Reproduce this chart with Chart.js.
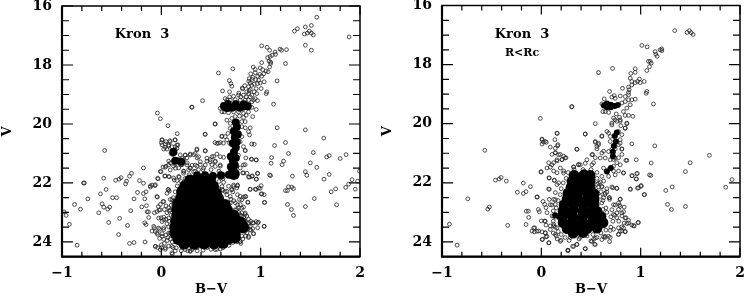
<!DOCTYPE html>
<html>
<head>
<meta charset="utf-8">
<title>Kron 3</title>
<script src="https://cdn.jsdelivr.net/npm/chart.js@4"></script>
<style>
body { margin: 0; background: #fff; }
canvas { position: absolute; top: 0; }
#painelA { left: 0; }
#painelB { left: 380px; }
</style>
</head>
<body>
<canvas id="painelA" width="373" height="296"></canvas>
<canvas id="painelB" width="366" height="296"></canvas>
<script>
// eixos
const xMajor = [-1, 0, 1, 2];
const xMinor = [-0.8, -0.6, -0.4, -0.2, 0.2, 0.4, 0.6, 0.8, 1.2, 1.4, 1.6, 1.8];
const yMajor = [16, 18, 20, 22, 24];
const yMinor = [16.5, 17, 17.5, 18.5, 19, 19.5, 20.5, 21, 21.5, 22.5, 23, 23.5];

// painel esquerdo: [B-V, V]
const giantsA = [[1.565,16.38],[1.51,16.66],[1.45,16.71],[1.37,16.77],[1.34,16.85],[1.49,16.85],[1.47,16.92],[1.44,16.95],[1.51,16.92],[1.53,16.98],[1.89,17.05],[1.45,17.33],[1.51,17.5],[1.01,17.35],[1.065,17.4],[1.09,17.5],[1.195,17.46],[1.21,17.5],[1.26,17.48],[1.145,17.56],[1.15,17.64],[1.115,17.67],[1.095,17.71],[1.07,17.75],[1.085,17.87],[1.1,17.9],[1.01,17.92],[1.1,17.95],[1.25,17.95],[1.09,18.07],[0.925,18.07],[0.72,18.13],[0.575,18.27],[0.945,18.15],[0.995,18.1],[1.02,18.16],[1.055,18.2],[1.075,18.23],[0.945,18.26],[0.9,18.3],[0.97,18.38],[1.01,18.38],[0.885,18.46],[0.915,18.49],[0.98,18.52],[1.035,18.57],[1.165,18.54],[0.685,18.53],[0.7,18.63],[0.71,18.72],[0.895,18.61],[0.91,18.69],[0.878,18.74],[0.968,18.63],[0.995,18.61],[0.935,18.65],[0.955,18.8],[1.005,18.8],[0.814,18.78],[0.82,18.81],[0.616,18.88],[0.687,18.91],[0.884,18.88],[0.895,18.83],[0.86,18.91],[0.961,18.97],[1.062,18.91],[1.055,18.97],[0.878,18.97],[0.911,19.02],[0.935,18.91],[0.854,19.08],[0.895,19.08],[0.827,19.02],[0.945,19.14],[0.968,19.21],[0.643,19.14],[0.687,19.08],[0.727,19.06],[0.777,19.02],[0.8,19.08]];
const clumpA = [[0.593,19.47],[0.62,19.33],[0.61,19.59],[0.633,19.59],[0.677,19.62],[0.727,19.59],[0.777,19.59],[0.827,19.64],[0.878,19.59],[0.911,19.44],[0.955,19.51],[0.911,19.25],[0.66,19.19],[0.694,19.19],[0.744,19.17],[0.794,19.19],[0.844,19.19],[0.878,19.19],[0.928,19.19],[1.13,19.33],[0.305,19.43],[0.415,19.21],[-0.04,19.63],[-0.01,19.82],[0.067,20.06],[0.16,20.33],[0.31,19.43]];
const branchA = [[0.66,19.87],[0.71,19.81],[0.744,19.75],[0.787,19.73],[0.827,19.78],[0.854,19.7],[0.92,19.75],[0.694,19.98],[0.81,19.92],[0.844,19.92],[0.694,20.15],[0.81,20.09],[0.845,20.13],[0.895,20.13],[0.67,20.32],[0.643,20.43],[0.66,20.54],[0.687,20.65],[0.81,20.43],[0.794,20.6],[0.827,20.77],[0.878,20.26],[0.888,20.37],[0.61,20.41],[0.54,20],[0.44,20.35],[0.54,20.63],[0.575,20.65],[0.625,20.65],[0.91,20.68],[0.935,20.69],[1.14,20.73],[1.25,20.63],[1.166,20.13],[1.45,20.2],[1.635,20.48],[0.007,20.54],[0.09,20.6],[0.137,20.54],[0.167,20.71],[0,20.63],[0.04,20.68],[0.074,20.75],[0.107,20.77],[0.14,20.77],[0.024,20.85],[0.057,20.85],[0.107,20.98],[0.14,20.87],[0.124,21.02]];
const fieldBlueA = [[-0.57,20.9],[-0.18,21.49],[-0.3,21.67],[-0.32,21.77],[-0.405,21.82],[-0.425,21.87],[-0.46,21.91],[-0.58,21.84],[-0.784,22],[-0.774,22],[-0.35,21.94],[-0.36,22.03],[-0.22,21.92],[-0.18,22.01],[-0.064,22.09],[-0.094,22.07],[-0.11,22.14],[-0.556,22.22],[-0.613,22.37],[-0.74,22.54],[-0.49,22.5],[-0.45,22.5],[-0.275,22.54],[-0.24,22.32],[-0.18,22.36],[-0.154,22.3],[-0.167,22.54],[-0.04,22.48],[-0.874,22.73],[-0.814,22.89],[-0.98,22.98],[-0.958,23.1],[-0.925,23.4],[-0.848,24.11],[-0.596,22.71],[-0.58,22.82],[-0.52,22.82],[-0.54,22.89],[-0.63,23.01],[-0.308,22.94],[-0.197,22.81],[-0.15,22.77],[-0.144,22.98],[-0.13,22.98],[-0.127,23.17],[-0.42,23.2],[-0.53,23.34],[-0.34,23.44],[-0.167,23.35],[-0.154,23.41],[-0.43,23.75],[-0.32,24.05],[-0.275,24.02],[-0.164,24]];
const edgeLeftA = [[-0.07,23.01],[-0.023,22.92],[-0.03,22.8],[-0.01,22.73],[0.017,22.63],[0.047,22.78],[0.03,22.9],[0.057,23.01],[0.074,22.84],[-0.003,23.18],[0.024,23.16],[0.047,23.23],[0.007,23.31],[0.057,23.38],[-0.07,23.52],[-0.094,23.63],[-0.06,23.65],[-0.017,23.57],[0.024,23.52],[0.074,23.49],[-0.037,23.74],[0.007,23.72],[0.047,23.76],[0.09,23.69],[-0.017,23.88],[0.024,23.91],[0.067,23.85],[-0.06,24.15],[-0.037,24.19],[0,24.19],[0.04,24.25],[0.11,24.41],[0.074,24.14],[0.118,24.19],[0,24.1],[0.14,24.3],[0.21,24.19],[0.265,24.3],[0.31,24.25],[0.36,24.19],[-0.003,21.62],[0.034,21.77],[0.08,21.79],[-0.033,21.86],[0.067,22.22],[0.08,22.28],[0.09,22.56],[0.124,22.62],[0.124,21.83],[0.157,21.92],[0.017,21.46],[0.047,21.43],[0.09,21.32],[0.124,21.43],[0.175,21.49],[0.074,21.26],[0.114,21.04],[0.14,20.98],[0.175,21.21],[0.21,21.17],[0.24,21.06],[0.29,21.02],[0.34,21],[0.14,21.37],[0.21,21.38],[0.26,21.32],[0.31,21.4],[0.36,21.15],[0.225,21.6],[0.275,21.55],[0.325,21.62],[0.375,21.55]];
const fieldRedA = [[1.11,21.14],[1.105,21.33],[1.28,21],[1.23,21.26],[1.216,21.38],[1.53,20.97],[1.5,21.32],[1.565,21.47],[1.665,21.12],[1.69,21.07],[1.8,21.17],[1.86,21.04],[0.955,21.22],[0.905,21.19],[0.85,21.15],[0.82,21.66],[0.878,21.8],[0.915,21.76],[0.97,21.68],[0.958,21.87],[1.09,21.73],[1.1,21.75],[1.32,21.77],[1.45,21.62],[1.464,21.74],[1.638,21.87],[1.69,21.71],[1.92,21.89],[1.976,21.94],[1.886,22.04],[1.856,22.15],[1.953,22.21],[1.755,22.2],[1.71,22.3],[1.995,21.6],[1.54,22.53],[1.765,22.74],[1.45,22.8],[1.27,22.73],[1.31,22.9],[1.33,23.1],[1.28,22.13],[1.25,22.26],[1.27,22.26],[1.313,22.14],[1.33,22.19],[1.005,22.09],[0.978,22.17],[0.955,22.22],[0.895,22.22],[1.005,22.37],[1.035,22.4],[1.04,22.66],[1.035,23.47],[0.97,23.35],[0.955,23.31],[0.92,23.35],[0.97,23.52],[0.928,23.72],[0.878,23.85],[0.794,23.99],[0.76,23.99],[0.643,24.14],[0.576,24.15]];
const edgeRightA = [[0.627,21.98],[0.677,22.11],[0.727,22.07],[0.767,22.07],[0.71,22.22],[0.76,22.17],[0.61,22.22],[0.66,22.28],[0.72,22.3],[0.794,22.45],[0.828,22.48],[0.85,22.46],[0.787,22.56],[0.871,22.65],[0.744,22.67],[0.794,22.73],[0.828,22.82],[0.777,22.84],[0.81,23.01],[0.844,23.07],[0.878,23.23],[0.844,23.29],[0.895,23.46],[0.861,23.52],[0.828,23.63],[0.861,23.69],[0.81,23.8],[0.76,23.91],[0.693,24.02],[0.593,24.08],[0.526,24.19],[0.459,24.19],[0.392,24.14],[0.291,24.3],[0.56,24.25],[0.643,24.08],[0.727,23.91],[0.744,23.63],[0.777,23.57],[0.794,23.35],[0.81,23.12],[0.844,20.9],[0.777,21.06],[0.727,21.26],[0.844,21.38],[0.794,21.49],[0.76,21.43],[0.828,21.66],[0.694,21.6],[0.593,21.66],[0.526,21.1],[0.459,21.26],[0.392,21.38],[0.325,21.04],[0.258,21.15],[0.442,20.9],[0.358,20.85],[0.56,21.02],[0.543,21.26],[0.492,21.21],[0.627,21.13],[0.509,21.38],[0.425,21.49],[0.593,21.43],[0.292,21.49],[0.358,21.43],[0.225,21.6]];
const extraA = [[0.007,20.54],[0.047,20.6],[0.084,20.57],[0.14,20.54],[0.007,20.71],[0.04,20.79],[0.074,20.71],[0.157,20.71],[0.124,20.94],[0.097,21],[0.157,20.83],[0.19,21.05],[0.241,21.05],[0.291,21.05],[0.358,20.88],[0.442,20.92],[0.375,21.11],[0.459,21.16],[0.509,21.11],[0.543,21.28],[0.593,21.11],[0.559,20.66],[0.593,20.63],[0.609,20.43],[0.442,20.35],[0.543,20],[0.224,21.22],[0.174,21.22],[0.124,21.24],[0.074,21.39],[0.04,21.47],[0.09,21.56],[0.141,21.5],[0.198,21.39],[0.258,21.39],[0.291,21.5],[0.342,21.39],[0.392,21.28],[0.442,21.39],[0.492,21.28],[0.543,21.44],[0.593,21.39],[0.04,21.76],[-0.01,21.61],[0.074,21.78],[0.13,21.9],[-0.037,21.84],[0.174,21.78],[0.224,21.67],[0.844,20.9],[0.911,21.2],[0.955,21.22],[0.827,21.39],[0.861,21.67],[0.911,21.78],[0.968,21.67],[0.955,21.87],[0.888,21.8],[0.727,22.12],[0.767,22.1],[0.71,22.23],[0.61,22.12],[0.643,22.29],[0.694,22.46],[0.767,22.4],[0.844,22.46],[0.81,22.57],[0.871,22.66],[0.894,22.21],[0.995,22.18],[0.945,22.21],[1.012,22.37],[1.038,22.66],[0.694,22.68],[0.767,22.74],[0.81,22.85],[0.744,22.91],[0.794,23.08],[0.844,23.02],[0.827,23.3],[0.878,23.41],[0.928,23.36],[0.978,23.33],[0.894,23.58],[0.928,23.72],[0.844,23.64],[1.035,23.47],[0.878,23.81],[0.794,23.98],[0.744,23.92],[0.643,24.09],[0.593,24.24],[0.543,24.26],[0.325,24.09],[0.291,24.32],[0.241,24.26],[0.107,24.37],[-0.044,22.46],[0.074,22.23],[0.057,22.35],[-0.111,22.1],[-0.06,22.06],[0.107,22.57],[0.024,22.63],[0.124,22.74],[0.09,22.91],[-0.01,22.91],[-0.044,22.97],[-0.027,23.19],[0.024,23.25],[0.074,23.19],[-0.077,23.47],[-0.027,23.53],[0.024,23.58],[-0.044,23.7],[0.007,23.81],[0.074,23.7],[-0.06,24.15],[-0.01,24.26],[0.04,24.2],[0.107,24.15]];
const beltA = [[0.62,22.25],[0.66,22.4],[0.7,22.55],[0.73,22.6],[0.76,22.9],[0.72,22.95],[0.78,23],[0.83,23.15],[0.86,23.12],[0.88,23.35],[0.9,23.3],[0.9,23.6],[0.87,23.55],[0.92,23.55],[0.85,23.8],[0.82,23.9],[0.8,24.05],[0.72,24.02],[0.68,24.12],[0.62,24.2],[0.5,24.25],[0.42,24.28],[0.36,24.3],[0.2,24.3],[0.15,24.2],[0.11,24],[0.09,23.9],[0.06,23.95],[0.03,24.05],[0.08,23.3],[0.1,23.1],[0.08,22.95],[0.1,22.75],[0.12,22.5],[0.14,22.3],[0.16,22.1],[0.2,21.95],[0.24,21.85],[0.18,21.8],[0.28,21.72],[0.34,21.6],[0.42,21.55],[0.5,21.55],[0.58,21.6],[0.62,21.85],[0.58,21.95],[0.62,21.7],[0.55,22.1],[0.58,22.2],[0.78,18.95],[0.84,18.7],[0.88,18.55],[0.92,18.42],[0.95,18.5],[0.99,18.32],[1.03,18.3]];
const denseA = [[0.63,19.4],[0.67,19.32],[0.71,19.45],[0.75,19.33],[0.79,19.45],[0.83,19.33],[0.87,19.4],[0.66,19.46],[0.74,19.42],[0.82,19.42],[0.72,21.55],[0.74,21.4],[0.7,21.45],[0.72,21.25],[0.7,21.1],[0.75,21.15],[0.73,20.95],[0.75,20.8],[0.72,20.65],[0.76,20.6],[0.74,20.45],[0.77,20.35],[0.73,20.25],[0.76,20.1],[0.75,19.95],[0.12,20.95],[0.14,21.25],[0.2,21.28],[0.36,21.75],[0.44,21.74],[0.52,21.76],[0.6,21.75],[0.68,21.72]];
const coreA = [[0.73,21.7],[0.29,21.92],[0.39,21.9],[0.49,21.92],[0.24,22.1],[0.34,22.08],[0.44,22.1],[0.52,22.12],[0.21,22.3],[0.31,22.28],[0.41,22.3],[0.51,22.3],[0.55,22.35],[0.2,22.5],[0.3,22.52],[0.4,22.5],[0.5,22.48],[0.57,22.52],[0.17,22.7],[0.27,22.72],[0.37,22.7],[0.47,22.68],[0.57,22.7],[0.64,22.75],[0.16,22.9],[0.26,22.92],[0.36,22.9],[0.46,22.88],[0.56,22.9],[0.66,22.92],[0.16,23.1],[0.25,23.1],[0.35,23.12],[0.45,23.1],[0.55,23.08],[0.65,23.1],[0.73,23.12],[0.15,23.3],[0.25,23.32],[0.35,23.3],[0.45,23.28],[0.55,23.3],[0.65,23.32],[0.75,23.3],[0.8,23.35],[0.14,23.5],[0.24,23.5],[0.34,23.52],[0.44,23.5],[0.54,23.48],[0.64,23.5],[0.74,23.52],[0.82,23.5],[0.14,23.7],[0.24,23.72],[0.34,23.7],[0.44,23.68],[0.54,23.7],[0.64,23.72],[0.74,23.7],[0.17,23.9],[0.27,23.88],[0.37,23.9],[0.47,23.92],[0.57,23.9],[0.67,23.88],[0.74,23.85],[0.23,24.05],[0.33,24.06],[0.43,24.05],[0.53,24.04],[0.62,24.03]];

// painel direito: R<Rc
const giantsB = [[1.343,16.85],[1.467,16.91],[1.491,16.85],[1.508,16.92],[1.528,16.98],[1.012,17.35],[1.065,17.4],[1.146,17.56],[1.152,17.65],[1.166,17.72],[1.196,17.5],[1.213,17.47],[1.213,17.53],[1.079,17.89],[1.096,17.89],[1.106,17.95],[1.089,18.07],[1.062,18.2],[0.945,18.14],[0.945,18.26],[0.901,18.3],[0.717,18.13],[0.576,18.27],[0.895,18.46],[0.911,18.57],[0.968,18.57],[0.988,18.49],[1.035,18.57],[0.995,18.61],[0.945,18.61],[0.911,18.69],[0.878,18.76],[0.817,18.8],[0.884,18.85],[0.687,18.91],[0.878,18.94],[1.062,18.91],[1.055,18.97],[0.633,19.16],[0.734,19.05],[0.794,19.06],[0.878,19.02],[0.844,19.08],[0.945,19.17],[0.911,19.19],[0.878,19.19],[0.844,19.25],[0.744,19.14],[0.71,19.1],[1.129,19.33],[0.305,19.43],[0.543,20],[0.442,20.35],[0.861,20],[0.921,19.75],[0.878,19.72],[0.844,19.72],[0.827,19.59],[0.861,19.47],[0.895,19.36],[0.811,19.3],[0.61,19.33],[0.62,19.59],[0.643,19.59],[0.677,19.62],[0.754,19.67],[0.787,19.78],[0.727,19.81],[0.76,19.92],[0.794,19.92],[0.71,20.04],[0.8,20.07],[0.844,20.15],[0.677,20.32],[0.61,20.41],[0.811,20.37],[0.543,20.63],[0.576,20.71],[0.911,20.68],[1.142,20.75],[0.794,20.54],[0.694,20.6],[0.777,20.71],[-0.01,19.82],[0.16,20.33],[0.007,20.54],[0.04,20.6],[0.137,20.54],[0.167,20.71],[0.02,20.62]];
const fieldB = [[-0.569,20.9],[-0.462,21.91],[-0.425,21.87],[-0.405,21.82],[-0.352,21.94],[-0.181,22.01],[-0.11,22.13],[-0.241,22.32],[-0.181,22.36],[-0.154,22.3],[-0.04,22.48],[-0.74,22.54],[-0.539,22.89],[-0.523,22.82],[-0.925,23.4],[-0.848,24.11],[-0.338,23.44],[-0.154,23.41],[-0.151,22.96],[-0.131,22.96],[-0.127,23.17],[-0.03,22.9],[-0.02,22.98],[-0.003,21.62],[0.077,21.83],[0.08,22.22],[0.017,22.63],[0.034,22.73],[0.047,22.84],[0.057,23.01],[0,23.29],[0.034,23.29],[0.047,23.43],[-0.067,23.52],[-0.094,23.63],[-0.07,23.66],[-0.027,23.63],[0.007,23.66],[0.04,23.69],[0.013,23.91],[0.047,23.83],[0.077,24.03],[0.124,23.46],[0.158,23.52],[0.091,23.46],[0.151,23.8],[0.198,23.94],[0.268,24.28],[0.124,21.32],[0.074,21.32],[0.107,21.04],[0.141,20.98],[0.191,21.04],[0.225,21.1],[0.248,21.15],[0.158,21.26],[0.208,21.21],[0.091,21.47],[0.124,21.6],[0.158,21.66],[0.225,21.6],[0.131,21.91],[0.174,22],[0.08,22.56],[0.124,22.56],[0.141,22.33],[0.107,22.75],[0.141,22.73],[0.107,23.12],[0.141,23.16]];
const outerB = [[0.358,20.87],[0.516,21.04],[0.56,20.85],[0.627,20.93],[0.71,20.87],[0.744,20.85],[0.811,20.85],[0.811,21.04],[0.851,21.24],[0.955,21.22],[1.106,21.33],[1.498,21.32],[1.692,21.07],[0.543,21.15],[0.526,21.32],[0.442,21.34],[0.375,21.38],[0.325,21.46],[0.727,21.21],[0.76,21.32],[0.777,21.15],[0.677,21.55],[0.727,21.6],[0.777,21.6],[0.828,21.66],[0.915,21.76],[0.965,21.68],[0.958,21.87],[1.089,21.73],[1.102,21.75],[1.451,21.62],[1.92,21.89],[1.856,22.15],[1.317,22.14],[1.253,22.26],[1.005,22.09],[0.978,22.17],[0.898,22.22],[1.035,22.4],[0.76,22.19],[0.72,22.17],[0.66,22.31],[0.593,21.97],[0.627,21.94],[0.61,22.14],[0.576,22.14],[0.687,22.5],[0.687,22.56],[0.794,22.56],[0.627,22.5],[0.744,22.75],[0.787,22.75],[0.834,22.82],[0.777,22.9],[0.828,22.98],[0.727,23.07],[0.76,23.18],[0.811,23.12],[0.851,23.18],[0.878,23.27],[0.861,23.38],[0.834,23.36],[0.935,23.46],[0.972,23.35],[0.911,23.43],[0.811,23.49],[0.777,23.52],[0.727,23.57],[0.694,23.61],[0.811,23.63],[0.844,23.66],[0.777,23.74],[0.627,23.83],[0.694,23.85],[0.687,23.99],[0.643,23.85],[0.56,23.85],[0.526,23.91],[0.499,23.97],[0.536,24.08],[0.442,24.23],[0.358,24.08],[0.315,24.15],[0.268,24.3],[0.392,23.85],[0.292,23.85],[1.27,22.73],[1.31,22.9],[1.451,22.8]];
const extraB = [[0.609,20.43],[0.66,20.26],[0.71,19.98],[0.743,19.87],[0.794,19.87],[0.861,19.98],[0.844,20.15],[0.777,20.26],[0.694,20.43],[0.794,20.66],[0.727,20.77],[0.677,20.94],[0.81,20.86],[0.609,20.99],[0.559,20.77],[0.543,20.6],[0.576,20.66],[0.509,21.05],[0.459,21.22],[0.392,21.39],[0.325,21.47],[0.375,21.39],[0.509,21.39],[0.593,21.16],[0.643,21.16],[0.694,21.22],[0.743,21.16],[0.861,21.24],[0.794,21.39],[0.727,21.44],[0.626,21.5],[0.827,21.67],[0.911,21.76],[0.961,21.69],[0.955,21.87],[0.743,21.73],[0.677,21.78],[0.609,21.78],[0.576,22.01],[0.609,22.12],[0.71,22.14],[0.76,22.18],[0.894,22.21],[1.005,22.12],[0.968,22.18],[1.038,22.4],[0.794,22.55],[0.683,22.51],[0.643,22.35],[0.593,22.46],[0.609,22.68],[0.727,22.74],[0.777,22.68],[0.794,22.8],[0.71,22.91],[0.76,23.02],[0.81,23.02],[0.844,23.19],[0.878,23.36],[0.928,23.45],[0.978,23.34],[0.827,23.53],[0.794,23.64],[0.844,23.64],[0.777,23.75],[0.677,23.81],[0.643,23.81],[0.609,23.92],[0.543,23.87],[0.509,23.98],[0.543,24.09],[0.442,24.23],[0.358,24.09],[0.325,24.15],[0.268,24.28],[0.191,23.98],[0.074,24.03],[0.007,23.92],[0.04,23.7],[-0.044,23.64],[-0.077,23.53],[0.057,23.81],[0.141,23.75],[0.09,23.58],[0.124,23.4],[0.04,23.3],[0.124,23.13],[0.09,22.74],[0.141,22.57],[0.074,22.21],[-0.044,22.48],[-0.003,21.64],[0.08,21.84],[0.13,21.92],[0.157,22.06],[0.057,21.5],[0.107,21.39],[0.157,21.22],[0.208,21.22],[0.241,21.16],[0.141,20.99],[0.174,21.05],[0.358,20.86],[0.164,20.75],[0.141,20.83],[0.007,20.52],[0.05,20.63],[0.007,20.69],[0.09,20.79],[0.157,20.32],[0.442,20.35],[0.308,19.42],[0.224,21.67],[0.191,21.5]];
const beltB = [[0.12,23.3],[0.14,23.5],[0.17,23.65],[0.2,23.75],[0.24,23.85],[0.12,22.95],[0.15,22.85],[0.17,22.6],[0.19,22.4],[0.2,22.2],[0.22,22],[0.25,21.85],[0.27,21.65],[0.33,21.55],[0.42,21.55],[0.5,21.55],[0.56,21.65],[0.56,21.85],[0.56,22.05],[0.6,22.3],[0.62,22.6],[0.65,22.85],[0.66,23],[0.7,23.15],[0.72,23.3],[0.7,23.5],[0.65,23.6],[0.6,23.7],[0.52,23.75],[0.46,23.8],[0.38,23.9],[0.28,23.95],[0.12,23.7],[0.16,23.9],[0.74,23.1],[0.78,23.3],[0.62,22.9],[0.64,22.4],[0.66,22.2]];
const denseB = [[0.63,19.38],[0.66,19.32],[0.66,19.44],[0.7,19.36],[0.7,19.44],[0.74,19.4],[0.77,19.37],[0.76,20.3],[0.74,20.42],[0.75,20.6],[0.73,20.75],[0.72,20.95],[0.72,21.1],[0.7,21.5],[0.66,21.62],[0.14,23.1]];
const coreB = [[0.33,21.75],[0.43,21.73],[0.49,21.75],[0.31,21.95],[0.41,21.93],[0.49,21.95],[0.3,22.15],[0.4,22.13],[0.49,22.15],[0.27,22.35],[0.37,22.33],[0.47,22.35],[0.53,22.37],[0.26,22.55],[0.36,22.53],[0.46,22.55],[0.53,22.57],[0.23,22.75],[0.33,22.73],[0.43,22.75],[0.53,22.73],[0.22,22.95],[0.32,22.93],[0.42,22.95],[0.52,22.93],[0.56,22.97],[0.21,23.15],[0.31,23.13],[0.41,23.15],[0.51,23.13],[0.6,23.15],[0.22,23.35],[0.32,23.33],[0.42,23.35],[0.52,23.33],[0.62,23.35],[0.26,23.55],[0.36,23.53],[0.46,23.55],[0.56,23.53],[0.32,23.7],[0.42,23.68]];

const fonte = '"DejaVu Serif"';

function pontos(lista) {
    return lista.map(p => ({ x: p[0], y: p[1] }));
}

function serie(lista, raio, cheio) {
    return {
        data: pontos(lista),
        pointStyle: 'circle',
        pointRadius: raio,
        pointBorderWidth: cheio ? 0 : 0.8,
        pointBorderColor: '#222',
        pointBackgroundColor: cheio ? '#000' : 'rgba(0,0,0,0)',
        showLine: false
    };
}

// moldura e marcas de escala para dentro, como no original
const moldura = {
    id: 'moldura',
    afterDraw(chart, args, opts) {
        const c = chart.ctx, a = chart.chartArea;
        const sx = chart.scales.x, sy = chart.scales.y;
        c.save();
        c.strokeStyle = '#000';
        c.lineWidth = 1.2;
        const marcaX = (v, t) => {
            const p = sx.getPixelForValue(v);
            c.beginPath();
            c.moveTo(p, a.top); c.lineTo(p, a.top + t);
            c.moveTo(p, a.bottom); c.lineTo(p, a.bottom - t);
            c.stroke();
        };
        const marcaY = (v, t) => {
            const p = sy.getPixelForValue(v);
            c.beginPath();
            c.moveTo(a.left, p); c.lineTo(a.left + t, p);
            c.moveTo(a.right, p); c.lineTo(a.right - t, p);
            c.stroke();
        };
        xMajor.forEach(v => marcaX(v, 9));
        xMinor.forEach(v => marcaX(v, 5));
        yMajor.forEach(v => marcaY(v, 11));
        yMinor.forEach(v => marcaY(v, 7));
        c.lineWidth = 1.5;
        c.strokeRect(a.left, a.top, a.right - a.left, a.bottom - a.top);
        c.lineWidth = 2.2;
        c.beginPath();
        c.moveTo(a.left, a.top); c.lineTo(a.left, a.bottom); c.lineTo(a.right, a.bottom);
        c.stroke();
        c.fillStyle = '#000';
        c.textAlign = 'center';
        c.textBaseline = 'middle';
        opts.textos.forEach(t => {
            c.font = 'bold ' + t.size + 'px ' + fonte;
            c.fillText(t.text, t.x, t.y);
        });
        c.restore();
    }
};

function grafico(id, direita, textos, series) {
    return new Chart(document.getElementById(id), {
        type: 'scatter',
        data: { datasets: series },
        plugins: [moldura],
        options: {
            responsive: false,
            animation: false,
            layout: { padding: { top: 5.5, right: direita, left: 0, bottom: 0 } },
            plugins: {
                legend: { display: false },
                tooltip: { enabled: false },
                moldura: { textos: textos }
            },
            scales: {
                x: {
                    min: -1,
                    max: 2,
                    grid: { display: false, drawTicks: false },
                    border: { display: false },
                    ticks: {
                        stepSize: 1,
                        includeBounds: false,
                        maxRotation: 0,
                        padding: 8,
                        color: '#000',
                        font: { family: fonte, weight: 'bold', size: 14 },
                        callback: v => v < 0 ? '\u2212' + Math.abs(v) : String(v)
                    },
                    title: {
                        display: true,
                        text: 'B\u2212V',
                        color: '#000',
                        padding: { top: 0, bottom: -1.5 },
                        font: { family: fonte, weight: 'bold', size: 13 }
                    },
                    afterFit(s) {
                        s.height = 39.3;
                        s.paddingLeft = s.paddingRight = 0;
                    }
                },
                y: {
                    min: 16,
                    max: 24.5,
                    reverse: true,
                    grid: { display: false, drawTicks: false },
                    border: { display: false },
                    ticks: {
                        stepSize: 2,
                        includeBounds: false,
                        padding: 10,
                        color: '#000',
                        font: { family: fonte, weight: 'bold', size: 14 }
                    },
                    title: {
                        display: true,
                        text: 'V',
                        color: '#000',
                        padding: { top: 0, bottom: 0 },
                        font: { family: fonte, weight: 'bold', size: 13 }
                    },
                    afterFit(s) {
                        s.width = 62;
                        s.paddingTop = s.paddingBottom = 0;
                    }
                }
            }
        }
    });
}

grafico('painelA', 13, [{ text: 'Kron  3', x: 142, y: 35, size: 13 }], [
    serie(coreA, 6, true),
    serie(denseA, 4, true),
    serie(giantsA, 1.9, false),
    serie(clumpA, 1.9, false),
    serie(branchA, 1.9, false),
    serie(fieldBlueA, 1.9, false),
    serie(edgeLeftA, 1.9, false),
    serie(fieldRedA, 1.9, false),
    serie(edgeRightA, 1.9, false),
    serie(extraA, 1.9, false),
    serie(beltA, 1.9, false)
]);

grafico('painelB', 6, [
    { text: 'Kron  3', x: 142, y: 35, size: 13 },
    { text: 'R<Rc', x: 142, y: 53, size: 11 }
], [
    serie(coreB, 5.5, true),
    serie(denseB, 3, true),
    serie(giantsB, 1.9, false),
    serie(fieldB, 1.9, false),
    serie(outerB, 1.9, false),
    serie(extraB, 1.9, false),
    serie(beltB, 1.9, false)
]);
</script>
</body>
</html>
